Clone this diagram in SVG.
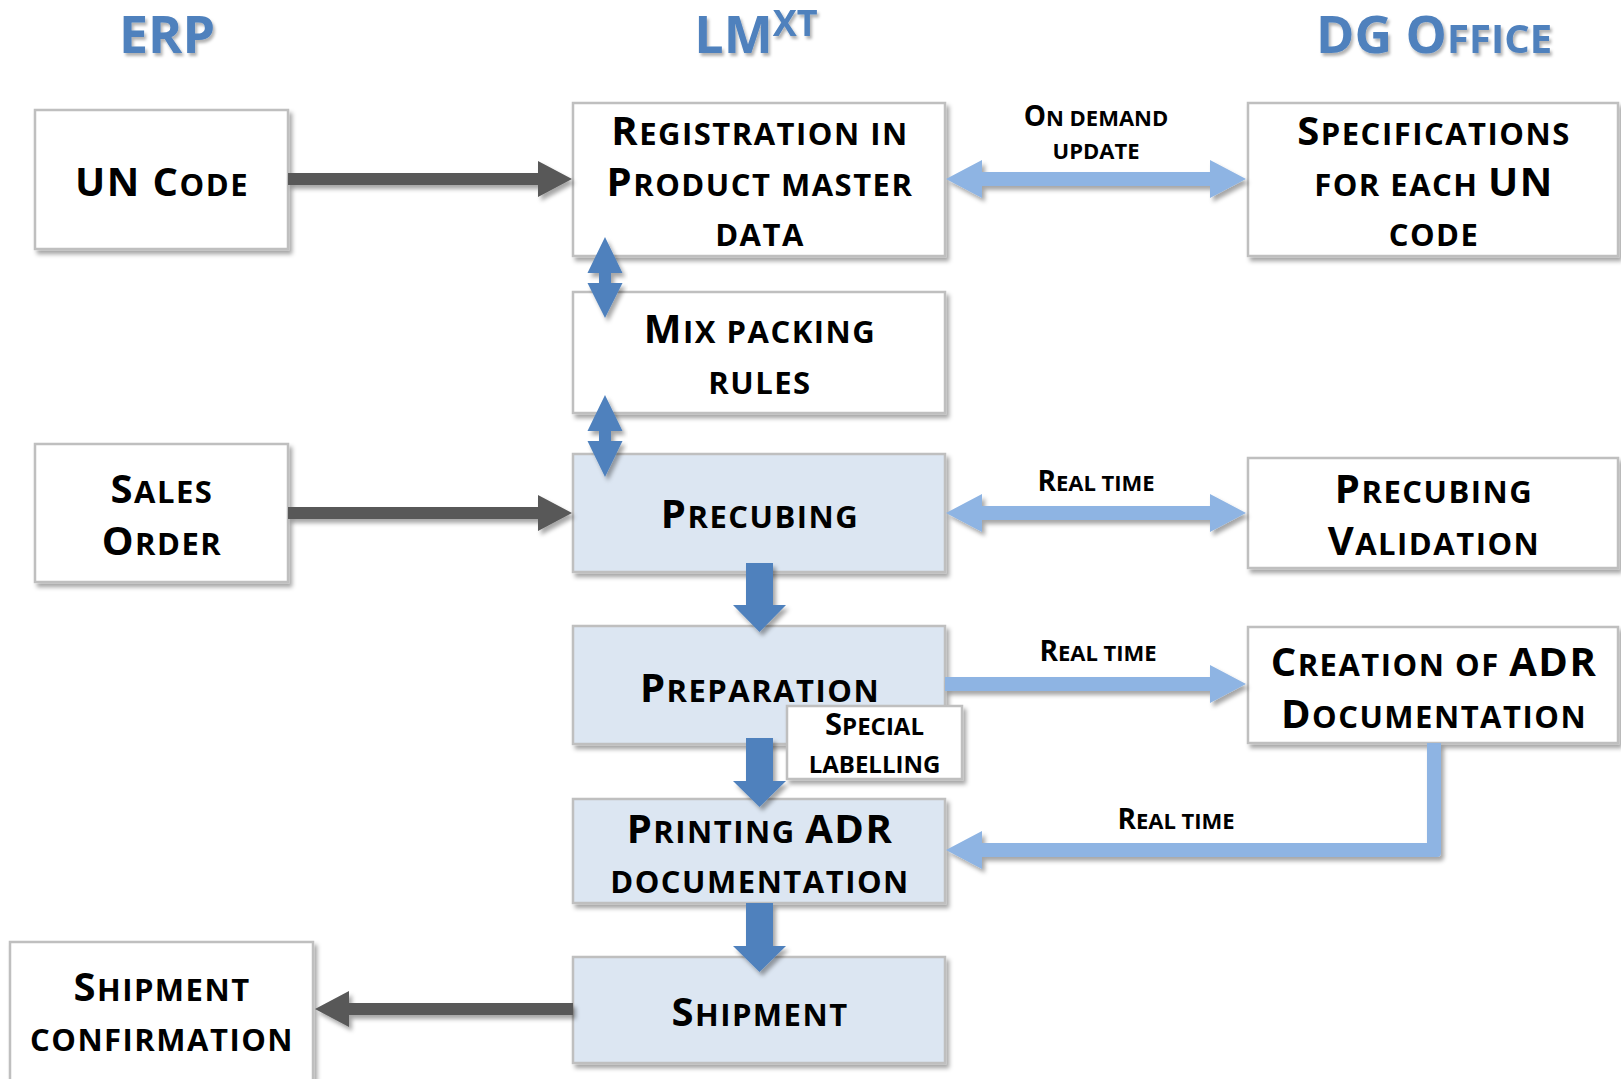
<svg xmlns="http://www.w3.org/2000/svg" width="1621" height="1079" viewBox="0 0 1621 1079">
<defs>
<filter id="sh" x="-10%" y="-10%" width="125%" height="130%">
<feDropShadow dx="3" dy="4" stdDeviation="2.2" flood-color="#000" flood-opacity="0.35"/>
</filter>
<filter id="tsh" x="-10%" y="-10%" width="130%" height="140%">
<feDropShadow dx="2" dy="3" stdDeviation="1.5" flood-color="#000" flood-opacity="0.3"/>
</filter>
<style>
.box{stroke:#bfbfbf;stroke-width:2.5;filter:url(#sh)}
.w{fill:#fff}
.b{fill:#dce6f2}
.t{font-family:"Open Sans","Liberation Sans",sans-serif;font-weight:700;fill:#000;text-anchor:middle}
.bx{letter-spacing:1.5px}
.L{font-size:40px}
.S{font-size:31px}
.lL{font-size:28px}
.lS{font-size:22px}
.ttl{font-family:"Open Sans","Liberation Sans",sans-serif;font-weight:700;fill:#4f81bd;filter:url(#tsh)}
.dk{fill:#595959;filter:url(#sh)}
.lb{fill:#8eb4e3;filter:url(#sh)}
.bl{fill:#4f81bd;filter:url(#sh)}
</style>
</defs>

<g id="titles">
<text class="ttl" x="167" y="53" text-anchor="middle" font-size="52">ERP</text>
<text class="ttl" x="756" y="53" text-anchor="middle"><tspan font-size="52">LM</tspan><tspan font-size="36" dy="-17">XT</tspan></text>
<text class="ttl" x="1434" y="53" text-anchor="middle"><tspan font-size="52">DG O</tspan><tspan font-size="40">FFICE</tspan></text>
</g>

<g id="n-uncode">
<rect class="box w" x="35" y="110" width="253" height="139"/>
<text class="t bx" x="162" y="196"><tspan class="L">UN C</tspan><tspan class="S">ODE</tspan></text>
</g>

<g id="n-registration">
<rect class="box w" x="573" y="103" width="372" height="153"/>
<text class="t bx" x="760" y="145"><tspan class="L">R</tspan><tspan class="S">EGISTRATION IN</tspan></text>
<text class="t bx" x="760" y="196"><tspan class="L">P</tspan><tspan class="S">RODUCT MASTER</tspan></text>
<text class="t bx" x="760" y="246"><tspan class="S">DATA</tspan></text>
</g>

<g id="n-specs">
<rect class="box w" x="1248" y="103" width="370" height="153"/>
<text class="t bx" x="1434" y="145"><tspan class="L">S</tspan><tspan class="S">PECIFICATIONS</tspan></text>
<text class="t bx" x="1434" y="196"><tspan class="S">FOR EACH </tspan><tspan class="L">UN</tspan></text>
<text class="t bx" x="1434" y="246"><tspan class="S">CODE</tspan></text>
</g>

<g id="n-mix">
<rect class="box w" x="573" y="292" width="372" height="121"/>
<text class="t bx" x="760" y="343"><tspan class="L">M</tspan><tspan class="S">IX PACKING</tspan></text>
<text class="t bx" x="760" y="394"><tspan class="S">RULES</tspan></text>
</g>

<g id="n-sales">
<rect class="box w" x="35" y="444" width="253" height="138"/>
<text class="t bx" x="162" y="503"><tspan class="L">S</tspan><tspan class="S">ALES</tspan></text>
<text class="t bx" x="162" y="555"><tspan class="L">O</tspan><tspan class="S">RDER</tspan></text>
</g>

<g id="n-precubing">
<rect class="box b" x="573" y="454" width="372" height="118"/>
<text class="t bx" x="760" y="528"><tspan class="L">P</tspan><tspan class="S">RECUBING</tspan></text>
</g>

<g id="n-validation">
<rect class="box w" x="1248" y="458" width="370" height="110"/>
<text class="t bx" x="1434" y="503"><tspan class="L">P</tspan><tspan class="S">RECUBING</tspan></text>
<text class="t bx" x="1434" y="555"><tspan class="L">V</tspan><tspan class="S">ALIDATION</tspan></text>
</g>

<g id="n-preparation">
<rect class="box b" x="573" y="626" width="372" height="118"/>
<text class="t bx" x="760" y="702"><tspan class="L">P</tspan><tspan class="S">REPARATION</tspan></text>
</g>

<g id="n-creation">
<rect class="box w" x="1248" y="627" width="370" height="116"/>
<text class="t bx" x="1434" y="676"><tspan class="L">C</tspan><tspan class="S">REATION OF </tspan><tspan class="L">ADR</tspan></text>
<text class="t bx" x="1434" y="728"><tspan class="L">D</tspan><tspan class="S">OCUMENTATION</tspan></text>
</g>

<g id="n-printing">
<rect class="box b" x="573" y="799" width="372" height="104"/>
<text class="t bx" x="760" y="843"><tspan class="L">P</tspan><tspan class="S">RINTING </tspan><tspan class="L">ADR</tspan></text>
<text class="t bx" x="760" y="893"><tspan class="S">DOCUMENTATION</tspan></text>
</g>

<g id="n-shipment">
<rect class="box b" x="573" y="957" width="372" height="106"/>
<text class="t bx" x="760" y="1026"><tspan class="L">S</tspan><tspan class="S">HIPMENT</tspan></text>
</g>

<g id="n-confirmation">
<rect class="box w" x="10" y="942" width="303" height="145"/>
<text class="t bx" x="162" y="1001"><tspan class="L">S</tspan><tspan class="S">HIPMENT</tspan></text>
<text class="t bx" x="162" y="1051"><tspan class="S">CONFIRMATION</tspan></text>
</g>

<g id="connectors">
<polygon class="dk" points="288,173 538,173 538,161 572,179 538,197 538,185 288,185"/>
<polygon class="dk" points="288,507 538,507 538,495 572,513 538,531 538,519 288,519"/>
<polygon class="dk" points="573,1003 349,1003 349,991 315,1009 349,1027 349,1015 573,1015"/>
<polygon class="lb" points="946,179 982,160 982,172 1210,172 1210,160 1246,179 1210,198 1210,186 982,186 982,198"/>
<polygon class="lb" points="946,513 982,494 982,506 1210,506 1210,494 1246,513 1210,532 1210,520 982,520 982,532"/>
<polygon class="lb" points="945,677 1210,677 1210,665 1246,684 1210,703 1210,691 945,691"/>
<path class="lb" d="M1427,743 L1441,743 L1441,853 Q1441,857 1437,857 L982,857 L982,869 L946,850 L982,831 L982,843 L1427,843 Z"/>
<polygon class="bl" points="605,237 622.5,273 611,273 611,283 622.5,283 605,318 587.5,283 599,283 599,273 587.5,273"/>
<polygon class="bl" points="605,395 622.5,431 611,431 611,441 622.5,441 605,477 587.5,441 599,441 599,431 587.5,431"/>
<polygon class="bl" points="746,563 773,563 773,605 786,605 759.5,632 733,605 746,605"/>
<polygon class="bl" points="746,738 773,738 773,781 786,781 759.5,807 733,781 746,781"/>
<polygon class="bl" points="746,903 773,903 773,946 786,946 759.5,972 733,946 746,946"/>
</g>

<g id="labels">
<text class="t" x="1096" y="126"><tspan class="lL">O</tspan><tspan class="lS">N DEMAND</tspan></text>
<text class="t" x="1096" y="159"><tspan class="lS">UPDATE</tspan></text>
<text class="t" x="1096" y="491"><tspan class="lL">R</tspan><tspan class="lS">EAL TIME</tspan></text>
<text class="t" x="1098" y="661"><tspan class="lL">R</tspan><tspan class="lS">EAL TIME</tspan></text>
<text class="t" x="1176" y="829"><tspan class="lL">R</tspan><tspan class="lS">EAL TIME</tspan></text>
</g>

<g id="n-special">
<rect class="box w" x="787" y="706" width="175" height="73"/>
<text class="t" x="874.5" y="735"><tspan font-size="31">S</tspan><tspan font-size="24">PECIAL</tspan></text>
<text class="t" x="874.5" y="773"><tspan font-size="24">LABELLING</tspan></text>
</g>
</svg>
